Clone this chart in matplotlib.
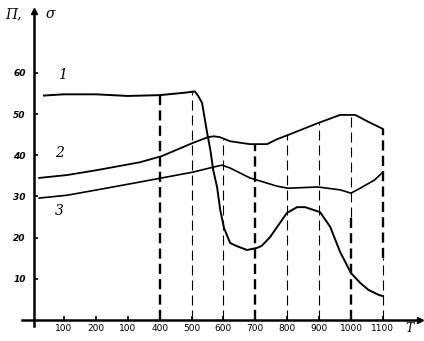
import numpy as np
import matplotlib.pyplot as plt

# curve 1
t1 = [37, 100, 200, 300, 400, 480, 510, 521, 533, 549, 559, 568, 580, 590, 602, 621,
      640, 674, 705, 720, 746, 799, 831, 856, 903, 935, 966, 1000, 1029, 1055, 1087, 1100]
s1 = [54.5, 54.8, 54.8, 54.4, 54.6, 55.2, 55.5, 54.4, 52.7, 45.4, 41.3, 36.4, 32.3,
      26.7, 22.3, 18.7, 18.0, 17.0, 17.5, 18.0, 20.1, 26.0, 27.4, 27.4, 26.2, 22.6,
      16.5, 11.4, 9.0, 7.3, 6.1, 5.8]
# curve 2
t2 = [22, 110, 204, 338, 407, 504, 552, 570, 589, 621, 683, 737, 768, 802, 896, 966,
      1013, 1055, 1100]
s2 = [34.5, 35.2, 36.4, 38.3, 39.8, 43.0, 44.4, 44.6, 44.4, 43.4, 42.7, 42.7, 43.9,
      44.9, 47.8, 49.8, 49.8, 48.1, 46.4]
# curve 3
t3 = [22, 110, 204, 338, 407, 504, 567, 595, 621, 683, 768, 802, 896, 966, 1000, 1029,
      1074, 1100]
s3 = [29.6, 30.3, 31.6, 33.5, 34.5, 35.9, 37.1, 37.6, 36.9, 34.5, 32.5, 32.0, 32.3,
      31.6, 30.8, 32.0, 34.0, 35.9]

xticks = [100, 200, 300, 400, 500, 600, 700, 800, 900, 1000, 1100]
xticklabels = ['100', '200', '100', '400', '500', '600', '700', '800', '900', '1000', '1100']
yticks = [10, 20, 30, 40, 50, 60]
vlines = [400, 500, 600, 700, 800, 900, 1000, 1100]
# style below / above the split level of each dashed line
vsplit = [0, 0, 0, 0, 0, 0, 25, 15]
vlow = ['heavy', 'thin', 'thin', 'heavy', 'thin', 'thin', 'heavy', 'thin']
vhigh = ['heavy', 'thin', 'thin', 'heavy', 'thin', 'thin', 'thin', 'heavy']

fig = plt.figure(figsize=(4.24, 3.41), dpi=100)
ax = fig.add_axes([0, 0, 1, 1])
ax.set_xlim(-100.7, 1229)
ax.set_ylim(-5.1, 77.7)

for sp in ['top', 'right']:
    ax.spines[sp].set_visible(False)
ax.spines['left'].set_position(('data', 6))
ax.spines['bottom'].set_position(('data', 0))
ax.spines['left'].set_bounds(-1.5, 74)
ax.spines['bottom'].set_bounds(-31, 1215)
ax.spines['left'].set_linewidth(1.8)
ax.spines['bottom'].set_linewidth(1.8)
ax.plot([1218], [0], marker='>', color='black', ms=5, clip_on=False)
ax.plot([6], [75], marker='^', color='black', ms=5, clip_on=False)

ax.set_xticks(xticks)
ax.set_xticklabels(xticklabels)
ax.set_yticks(yticks)
ax.tick_params(axis='both', direction='in', length=3, width=1.2, labelsize=6.5)
ax.tick_params(axis='y', pad=6)
ax.tick_params(axis='x', pad=3)
for lab in ax.get_yticklabels():
    lab.set_fontstyle('italic')
    lab.set_fontweight('bold')

ax.plot(t1, s1, color='black', lw=1.4)
ax.plot(t2, s2, color='black', lw=1.3)
ax.plot(t3, s3, color='black', lw=1.2)

styles = {'heavy': dict(lw=1.7, dashes=(4.3, 2.2)),
          'thin': dict(lw=0.8, dashes=(9, 4.5))}
tgrid = np.array(vlines, dtype=float)
tops = np.maximum.reduce([np.interp(tgrid, t1, s1), np.interp(tgrid, t2, s2),
                          np.interp(tgrid, t3, s3)])
for t, top, sp_, lo, hi in zip(vlines, tops, vsplit, vlow, vhigh):
    if sp_ > 0:
        ax.plot([t, t], [0, sp_], color='black', **styles[lo])
    ax.plot([t, t], [sp_, top], color='black', **styles[hi])

ax.text(95, 59.5, '1', fontsize=10, style='italic', family='DejaVu Serif', ha='center', va='center')
ax.text(85, 40.5, '2', fontsize=10, style='italic', family='DejaVu Serif', ha='center', va='center')
ax.text(85, 26.5, '3', fontsize=10, style='italic', family='DejaVu Serif', ha='center', va='center')
ax.text(-60, 74.2, 'Π,', fontsize=10, style='italic', family='DejaVu Serif', ha='center', va='center')
ax.text(57, 74.2, 'σ', fontsize=10, style='italic', family='DejaVu Serif', ha='center', va='center')
ax.text(1185, -2, 'T', fontsize=9, style='italic', family='DejaVu Serif', ha='center', va='center')

fig.savefig('out.png', dpi=100)
